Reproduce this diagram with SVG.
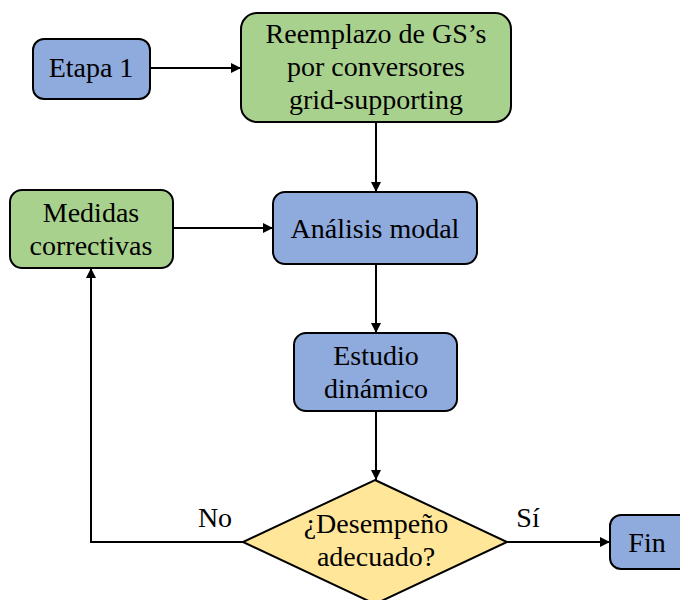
<svg xmlns="http://www.w3.org/2000/svg" width="680" height="600" viewBox="0 0 680 600">
  <style>
    .box { stroke: #000; stroke-width: 2; }
    .blue { fill: #8FAADC; }
    .green { fill: #A9D18E; }
    .yellow { fill: #FFE699; }
    text { font-family: "Liberation Serif", "Times New Roman", serif; font-size: 28px; fill: #000; text-anchor: middle; }
    .edge { fill: none; stroke: #000; stroke-width: 2; marker-end: url(#arrow); }
  </style>
  <defs>
    <marker id="arrow" viewBox="0 0 10 10" refX="10" refY="5" markerWidth="5.5" markerHeight="5" markerUnits="strokeWidth" orient="auto">
      <path d="M0,0 L10,5 L0,10 z" fill="#000"/>
    </marker>
  </defs>

  <rect width="680" height="600" fill="#fff"/>

  <g id="connectors">
    <line class="edge" x1="150" y1="68" x2="241" y2="68"/>
    <line class="edge" x1="376" y1="122" x2="376" y2="192"/>
    <line class="edge" x1="173" y1="228" x2="273" y2="228"/>
    <line class="edge" x1="376" y1="264" x2="376" y2="333"/>
    <line class="edge" x1="376" y1="411" x2="376" y2="480"/>
    <line class="edge" x1="507" y1="542" x2="610" y2="542"/>
    <path class="edge" d="M243,542 H91 V268"/>
    <text x="215" y="527">No</text>
    <text x="528" y="527">Sí</text>
  </g>

  <g id="etapa1">
    <rect class="box blue" x="33" y="39" width="117" height="60" rx="11"/>
    <text x="91" y="77">Etapa 1</text>
  </g>

  <g id="reemplazo">
    <rect class="box green" x="241" y="13" width="270" height="109" rx="16"/>
    <text x="376" y="43">Reemplazo de GS’s</text>
    <text x="376" y="76">por conversores</text>
    <text x="376" y="109">grid-supporting</text>
  </g>

  <g id="medidas">
    <rect class="box green" x="10" y="190" width="163" height="78" rx="12"/>
    <text x="91" y="222">Medidas</text>
    <text x="91" y="255">correctivas</text>
  </g>

  <g id="analisis">
    <rect class="box blue" x="273" y="192" width="204" height="72" rx="12"/>
    <text x="375" y="238">Análisis modal</text>
  </g>

  <g id="estudio">
    <rect class="box blue" x="294" y="333" width="163" height="78" rx="12"/>
    <text x="376" y="365">Estudio</text>
    <text x="376" y="398">dinámico</text>
  </g>

  <g id="decision">
    <polygon class="box yellow" points="375,480 507,542 375,604 243,542"/>
    <text x="376" y="533">¿Desempeño</text>
    <text x="376" y="566">adecuado?</text>
  </g>

  <g id="fin">
    <rect class="box blue" x="610" y="515" width="80" height="54" rx="11"/>
    <text x="647" y="552">Fin</text>
  </g>
</svg>
